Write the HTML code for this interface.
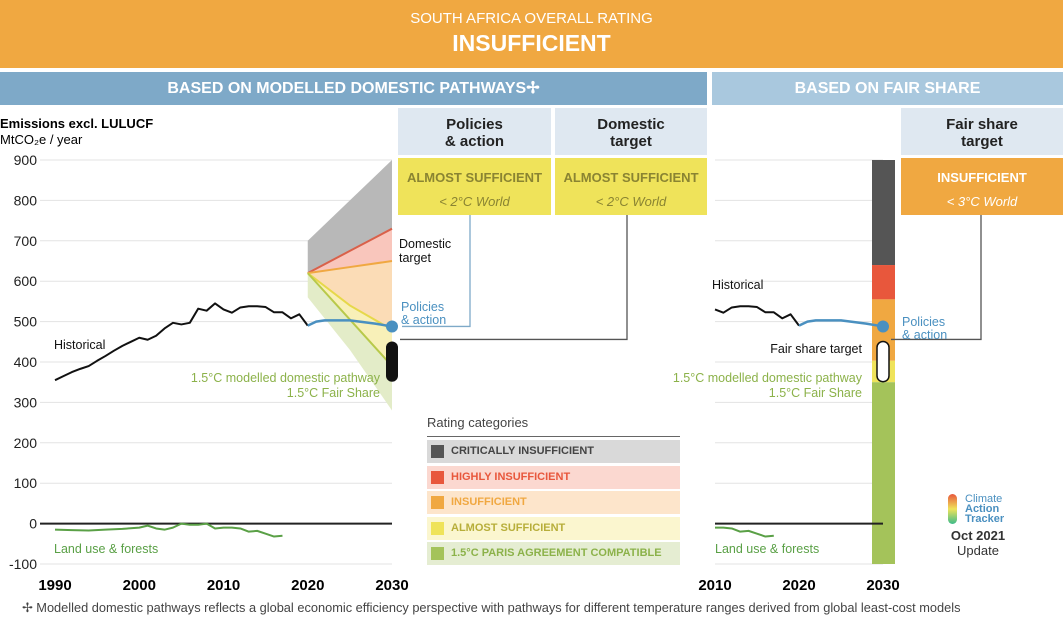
<!DOCTYPE html>
<html><head><meta charset="utf-8"><style>
body{margin:0;width:1063px;height:623px;overflow:hidden;background:#fff;font-family:"Liberation Sans",sans-serif;position:relative}
.a{position:absolute}
.hd{background:#dfe8f1;text-align:center;font-weight:bold;font-size:15px;color:#222;line-height:17px;padding-top:8px;box-sizing:border-box}
.rb{text-align:center;font-weight:bold;font-size:13px;box-sizing:border-box;padding-top:12px}
.rb i{display:block;font-weight:normal;font-size:13px;margin-top:9px}
.lg{left:427px;width:253px;height:23px;font-size:11px;font-weight:bold;line-height:23px;padding-left:24px;box-sizing:border-box}
.lg span{position:absolute;left:4px;top:5px;width:13px;height:13px}
</style></head><body>
<div class="a" style="left:0;top:0;width:1063px;height:68px;background:#f0a841;color:#fff;text-align:center">
<div style="font-size:15px;margin-top:10px">SOUTH AFRICA OVERALL RATING</div>
<div style="font-size:23px;font-weight:bold;margin-top:3px">INSUFFICIENT</div></div>
<div class="a" style="left:0;top:72px;width:707px;height:33px;background:#7ea9c8;color:#fff;font-weight:bold;font-size:16px;text-align:center;line-height:33px">BASED ON MODELLED DOMESTIC PATHWAYS✢</div>
<div class="a" style="left:712px;top:72px;width:351px;height:33px;background:#a9c8de;color:#fff;font-weight:bold;font-size:16px;text-align:center;line-height:33px">BASED ON FAIR SHARE</div>
<div class="a hd" style="left:398px;top:108px;width:153px;height:47px">Policies<br>&amp; action</div>
<div class="a hd" style="left:555px;top:108px;width:152px;height:47px">Domestic<br>target</div>
<div class="a hd" style="left:901px;top:108px;width:162px;height:47px">Fair share<br>target</div>
<div class="a rb" style="left:398px;top:158px;width:153px;height:57px;background:#efe35a;color:#8a8432">ALMOST SUFFICIENT<i>&lt; 2°C World</i></div>
<div class="a rb" style="left:555px;top:158px;width:152px;height:57px;background:#efe35a;color:#8a8432">ALMOST SUFFICIENT<i>&lt; 2°C World</i></div>
<div class="a rb" style="left:901px;top:158px;width:162px;height:57px;background:#f0a841;color:#fff">INSUFFICIENT<i>&lt; 3°C World</i></div>
<div class="a" style="left:0;top:116px;font-size:13px;line-height:16px"><b>Emissions excl. LULUCF</b><br>MtCO₂e / year</div>

<div class="a" style="left:427px;top:415px;font-size:13px;color:#444">Rating categories</div>
<div class="a" style="left:427px;top:436px;width:253px;height:1px;background:#666"></div>
<div class="a lg" style="top:440px;background:#d9d9d9;color:#444"><span style="background:#555"></span>CRITICALLY INSUFFICIENT</div>
<div class="a lg" style="top:466px;background:#fbd8d0;color:#e8573c"><span style="background:#e8573c"></span>HIGHLY INSUFFICIENT</div>
<div class="a lg" style="top:491px;background:#fde5cb;color:#f0a841"><span style="background:#f0a841"></span>INSUFFICIENT</div>
<div class="a lg" style="top:517px;background:#fbf6cf;color:#b7ae3a"><span style="background:#efe35a"></span>ALMOST SUFFICIENT</div>
<div class="a lg" style="top:542px;background:#e5edd2;color:#8cb24a"><span style="background:#a4c35a"></span>1.5°C PARIS AGREEMENT COMPATIBLE</div>

<div class="a" style="left:948px;top:494px;width:70px;text-align:center;font-size:13px;color:#333;line-height:15px">
<div style="position:absolute;left:0;top:0;width:9px;height:30px;border-radius:5px;background:linear-gradient(#e8573c,#efe35a,#3dbb8a)"></div>
<div style="font-size:11px;line-height:10px;color:#4a90c0;text-align:left;padding-left:17px">Climate<br><b>Action<br>Tracker</b></div>
<div style="margin-top:4px;margin-left:-10px"><b>Oct 2021</b><br>Update</div></div>
<div class="a" style="left:22px;top:600px;font-size:12.8px;color:#444">✢  Modelled domestic pathways reflects a global economic efficiency perspective with pathways for different temperature ranges derived from global least-cost models</div>

<svg class="a" style="left:0;top:0" width="1063" height="623" id="ch"></svg>
<script>
const yTicks=[900,800,700,600,500,400,300,200,100,0,-100];
const xTicksL=[1990,2000,2010,2020,2030];
const xTicksR=[2010,2020,2030];
const histYears=[1990,1991,1992,1993,1994,1995,1996,1997,1998,1999,2000,2001,2002,2003,2004,2005,2006,2007,2008,2009,2010,2011,2012,2013,2014,2015,2016,2017,2018,2019,2020];
const histVals=[355,365,375,383,390,403,415,428,440,450,460,455,465,483,497,493,497,532,527,545,530,522,535,538,538,536,523,523,508,518,490];
const polYears=[2020,2021,2022,2025,2028,2030];
const polVals=[490,500,503,503,495,488];
const luYears=[1990,1992,1994,1996,1998,2000,2001,2002,2003,2004,2005,2006,2007,2008,2009,2010,2011,2012,2013,2014,2015,2016,2017];
const luVals=[-15,-16,-17,-15,-13,-10,-5,-12,-15,-10,0,-3,-3,0,-12,-10,-10,-12,-20,-18,-25,-32,-30];
const fanYears=[2020,2025,2030];
const fanTop=[700,800,900];
const fanRed=[620,675,730];
const fanOrange=[620,635,650];
const fanYellow=[620,540,480];
const fanGreen=[620,505,390];
const fanLow=[560,430,280];
const barBounds=[900,640,555,403,350,-100];
const barColors=['#555','#e8573c','#f0a841','#efe35a','#a4c35a'];
const domTarget=[436,366];
const fsTarget=[436,366];

const NS='http://www.w3.org/2000/svg',svg=document.getElementById('ch');
const Y=v=>160+(900-v)*0.404;
const XL=t=>55+(t-1990)*8.425;
const XR=t=>715+(t-2010)*8.4;
function el(tag,at,txt){const e=document.createElementNS(NS,tag);for(const k in at)e.setAttribute(k,at[k]);if(txt!==undefined)e.textContent=txt;svg.appendChild(e);return e;}
function pts(xs,ys,X){return xs.map((t,i)=>X(t)+','+Y(ys[i])).join(' ');}
yTicks.forEach(v=>{
 let g=el('line',{x1:40,x2:392,y1:Y(v),y2:Y(v),stroke:'#e3e3e3'});
 
 let g2=el('line',{x1:715,x2:883,y1:Y(v),y2:Y(v),stroke:'#e3e3e3'});
 
 let t=el('text',{x:37,y:Y(v)+5,'text-anchor':'end','font-size':14,fill:'#222'},v);
 
});
xTicksL.forEach(v=>{let t=el('text',{x:XL(v),y:590,'text-anchor':'middle','font-size':15,'font-weight':'bold'},v);
 });
xTicksR.forEach(v=>{let t=el('text',{x:XR(v),y:590,'text-anchor':'middle','font-size':15,'font-weight':'bold'},v);
 });
function band(a,b,fill,name){const xs=fanYears;const p=xs.map((t,i)=>XL(t)+','+Y(a[i])).concat(xs.slice().reverse().map((t,i)=>XL(t)+','+Y(b[xs.length-1-i]))).join(' ');
 let e=el('polygon',{points:p,fill:fill});}
band(fanTop,fanRed,'#b8b8b8','fan-critically');
band(fanRed,fanOrange,'#f9c6bc','fan-highly');
band(fanOrange,fanYellow,'#fbdcb6','fan-insufficient');
band(fanYellow,fanGreen,'#f8f0b8','fan-almost');
band(fanGreen,fanLow,'#e3ecc8','fan-paris');
[[fanRed,'#d9614a'],[fanOrange,'#f0a841'],[fanYellow,'#e6d84a'],[fanGreen,'#b8c94a']].forEach(([a,c])=>{
 let l=el('polyline',{points:pts(fanYears,a,XL),fill:'none',stroke:c,'stroke-width':2});
 });
let z=el('line',{x1:40,x2:392,y1:Y(0),y2:Y(0),stroke:'#222','stroke-width':2});
for(let i=0;i<barColors.length;i++){let r=el('rect',{x:872,y:Y(barBounds[i]),width:23,height:Y(barBounds[i+1])-Y(barBounds[i]),fill:barColors[i]});
 }
let z2=el('line',{x1:715,x2:883,y1:Y(0),y2:Y(0),stroke:'#222','stroke-width':2});
function line(xs,ys,X,c,w,name){let l=el('polyline',{points:pts(xs,ys,X),fill:'none',stroke:c,'stroke-width':w,'stroke-linejoin':'round'});}
line(histYears,histVals,XL,'#111',2,'historical-line');
line(polYears,polVals,XL,'#4a90c0',2.5,'policies-line');
line(luYears,luVals,XL,'#5aa046',2,'lulucf-line');
const hi=histYears.map((t,i)=>i).filter(i=>histYears[i]>=2010);
line(hi.map(i=>histYears[i]),hi.map(i=>histVals[i]),XR,'#111',2,'historical-line-right');
line(polYears,polVals,XR,'#4a90c0',2.5,'policies-line-right');
const li=luYears.map((t,i)=>i).filter(i=>luYears[i]>=2010);
line(li.map(i=>luYears[i]),li.map(i=>luVals[i]),XR,'#5aa046',2,'lulucf-line-right');
el('polyline',{points:`${XL(2030)+10},${Y(488)} 470,${Y(488)} 470,215`,fill:'none',stroke:'#7ea9c8','stroke-width':1.3});
el('polyline',{points:`${XL(2030)+8},${Y(436)-8} 627,${Y(436)-8} 627,215`,fill:'none',stroke:'#555','stroke-width':1.3});
el('polyline',{points:`${XR(2030)+8},${Y(436)-8} 981,${Y(436)-8} 981,215`,fill:'none',stroke:'#555','stroke-width':1.3});
let d1=el('circle',{cx:XL(2030),cy:Y(488),r:6,fill:'#4a90c0'});
let d2=el('circle',{cx:XR(2030),cy:Y(488),r:6,fill:'#4a90c0'});
let p1=el('rect',{x:XL(2030)-6,y:Y(domTarget[0])-6,width:12,height:Y(domTarget[1])-Y(domTarget[0])+12,rx:6,fill:'#111'});
let p2=el('rect',{x:XR(2030)-6,y:Y(fsTarget[0])-6,width:12,height:Y(fsTarget[1])-Y(fsTarget[0])+12,rx:6,fill:'#fff',stroke:'#111','stroke-width':1.5});
function lab(x,y,t,c,a,name){let e=el('text',{x:x,y:y,'font-size':12.5,fill:c,'text-anchor':a||'start'},t);}
lab(54,349,'Historical','#111','start','historical-label');
lab(54,553,'Land use & forests','#5aa046','start','lulucf-label');
lab(399,248,'Domestic','#111','start','domestic-label');
lab(399,262,'target','#111','start','domestic-label-2');
lab(401,311,'Policies','#4a90c0','start','policies-label');
lab(401,324,'& action','#4a90c0','start','policies-label-2');
lab(380,382,'1.5°C modelled domestic pathway','#8cb24a','end','modelled-pathway-label');
lab(380,397,'1.5°C Fair Share','#8cb24a','end','fair-share-label');
lab(712,289,'Historical','#111','start','historical-label-right');
lab(715,553,'Land use & forests','#5aa046','start','lulucf-label-right');
lab(862,353,'Fair share target','#111','end','fair-share-target-label');
lab(862,382,'1.5°C modelled domestic pathway','#8cb24a','end','modelled-pathway-label-right');
lab(862,397,'1.5°C Fair Share','#8cb24a','end','fair-share-label-right');
lab(902,326,'Policies','#4a90c0','start','policies-label-right');
lab(902,339,'& action','#4a90c0','start','policies-label-right-2');
</script>
</body></html>
